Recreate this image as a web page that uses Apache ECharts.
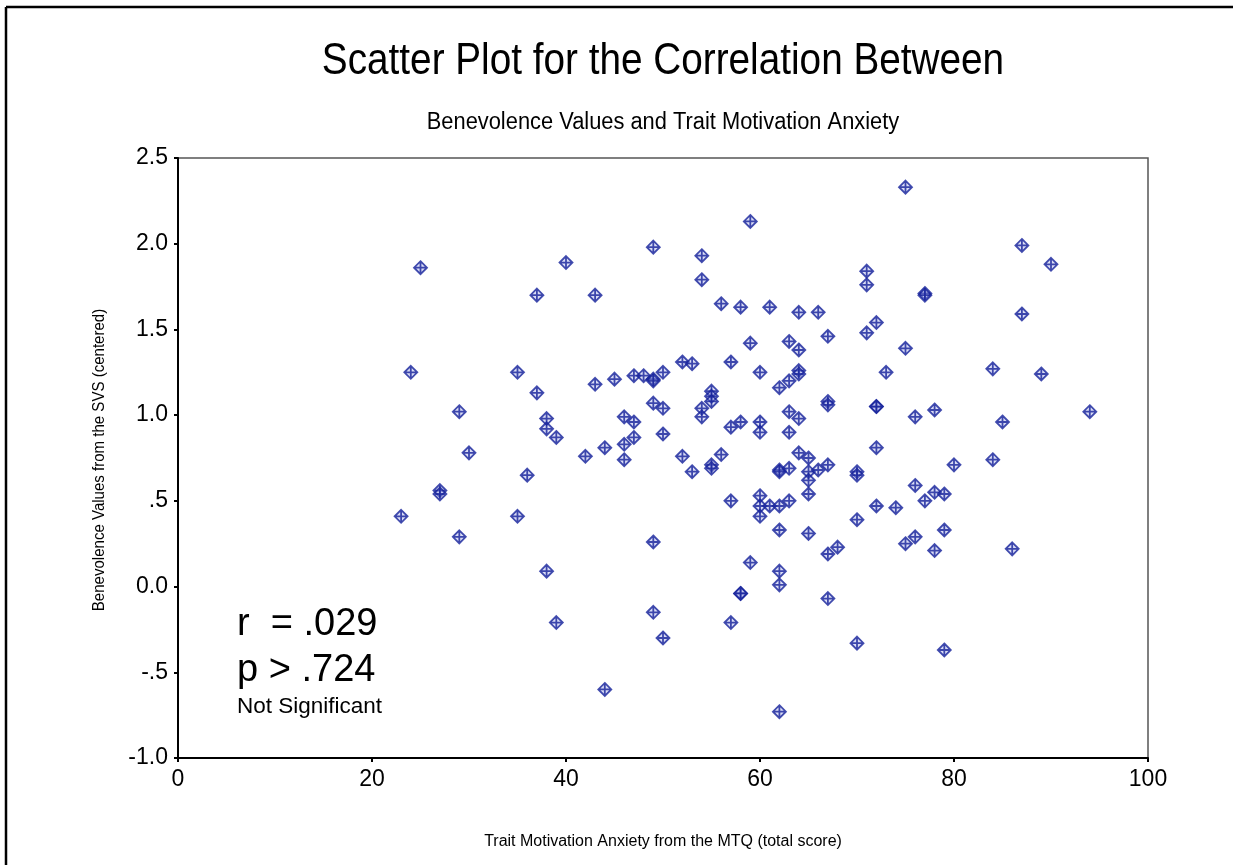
<!DOCTYPE html>
<html>
<head>
<meta charset="utf-8">
<title>Scatter Plot</title>
<script src="https://cdn.jsdelivr.net/npm/echarts@6/dist/echarts.min.js"></script>
<style>
  html, body { margin: 0; padding: 0; background: #fff; }
  #chart { width: 1233px; height: 865px; }
</style>
</head>
<body>
<div id="chart"></div>
<script>
// MTQ total score (x) and centered SVS benevolence (y)
const mtqScores = [
  23, 24, 25, 27, 27, 29, 29, 30, 35, 35, 36, 37, 37, 38, 38, 38, 39, 39, 40, 42,
  43, 43, 44, 44, 45, 46, 46, 46, 47, 47, 47, 48, 49, 49, 49, 49, 49, 49, 50, 50,
  50, 50, 52, 52, 53, 53, 54, 54, 54, 54, 55, 55, 55, 55, 55, 56, 56, 57, 57, 57,
  57, 58, 58, 58, 58, 59, 59, 59, 60, 60, 60, 60, 60, 60, 61, 61, 62, 62, 62, 62,
  62, 62, 62, 62, 63, 63, 63, 63, 63, 63, 64, 64, 64, 64, 64, 64, 65, 65, 65, 65,
  65, 66, 66, 67, 67, 67, 67, 67, 67, 68, 70, 70, 70, 70, 71, 71, 71, 72, 72, 72,
  72, 72, 73, 74, 75, 75, 75, 76, 76, 76, 77, 77, 77, 78, 78, 78, 79, 79, 79, 80,
  84, 84, 85, 86, 87, 87, 89, 90, 94
];
const benevolence = [
  0.41, 1.25, 1.86, 0.56, 0.54, 1.02, 0.29, 0.78, 1.25, 0.41, 0.65, 1.70, 1.13, 0.98, 0.92, 0.09, 0.87, -0.21, 1.89, 0.76,
  1.70, 1.18, 0.81, -0.60, 1.21, 0.99, 0.83, 0.74, 1.23, 0.96, 0.87, 1.23, 1.98, 1.21, 1.20, 1.07, 0.26, -0.15, 1.25, 1.04,
  0.89, -0.30, 1.31, 0.76, 1.30, 0.67, 1.93, 1.79, 1.04, 0.99, 1.14, 1.11, 1.08, 0.71, 0.69, 1.65, 0.77, 1.31, 0.93, 0.50,
  -0.21, 1.63, 0.96, -0.04, -0.04, 2.13, 1.42, 0.14, 1.25, 0.96, 0.90, 0.53, 0.47, 0.41, 1.63, 0.47, 1.16, 0.68, 0.67, 0.47,
  0.33, 0.09, 0.01, -0.73, 1.43, 1.20, 1.02, 0.90, 0.69, 0.50, 1.60, 1.38, 1.26, 1.24, 0.98, 0.78, 0.75, 0.67, 0.62, 0.54,
  0.31, 1.60, 0.68, 1.46, 1.08, 1.06, 0.71, 0.19, -0.07, 0.23, 0.67, 0.65, 0.39, -0.33, 1.84, 1.76, 1.48, 1.54, 1.05, 1.05,
  0.81, 0.47, 1.25, 0.46, 2.33, 1.39, 0.25, 0.99, 0.59, 0.29, 1.71, 1.70, 0.50, 1.03, 0.55, 0.21, 0.54, 0.33, -0.37, 0.71,
  1.27, 0.74, 0.96, 0.22, 1.99, 1.59, 1.24, 1.88, 1.02
];

const titleText = 'Scatter Plot for the Correlation Between';
const subtitleText = 'Benevolence Values and Trait Motivation Anxiety';
const xAxisName = 'Trait Motivation Anxiety from the MTQ (total score)';
const yAxisName = 'Benevolence Values from the SVS (centered)';
const statLines = ['r  = .029', 'p > .724', 'Not Significant'];

const FONT = '"Liberation Sans", Arial, sans-serif';

const chart = echarts.init(document.getElementById('chart'));

// diamond outline with a cross inside
const markerPath = 'path://M0,-10 L10,0 L0,10 L-10,0 Z M0,-10 L0,10 M-10,0 L10,0';

// free text; the original text is a bit condensed, so some are squeezed with scaleX
const label = (text, x, y, size, align, extra) => Object.assign({
  type: 'text',
  x: x,
  y: y,
  style: {
    text: text,
    fontFamily: FONT,
    fontSize: size,
    fill: '#000',
    align: align,
    verticalAlign: 'middle'
  }
}, extra || {});

const option = {
  backgroundColor: '#fff',
  animation: false,
  grid: {
    left: 178,
    top: 158,
    right: 85,
    bottom: 107,
    show: true,
    borderColor: '#555',
    borderWidth: 1.5
  },
  xAxis: {
    type: 'value',
    min: 0,
    max: 100,
    interval: 20,
    splitLine: { show: false },
    axisLine: { show: true, onZero: false, lineStyle: { color: '#000', width: 2 } },
    axisTick: { show: true, length: 4, lineStyle: { color: '#000', width: 2 } },
    axisLabel: { fontFamily: FONT, fontSize: 23, color: '#000', margin: 10 }
  },
  yAxis: {
    type: 'value',
    min: -1,
    max: 2.5,
    interval: 0.5,
    splitLine: { show: false },
    axisLine: { show: true, onZero: false, lineStyle: { color: '#000', width: 2 } },
    axisTick: { show: true, length: 4, lineStyle: { color: '#000', width: 2 } },
    axisLabel: {
      fontFamily: FONT,
      fontSize: 23,
      color: '#000',
      margin: 10,
      formatter: v => {
        const s = v.toFixed(1);
        if (v !== 0 && Math.abs(v) < 1) return s.replace('0.', '.');
        return s;
      }
    }
  },
  graphic: [
    // outer frame (top and left only)
    { type: 'line', shape: { x1: 6, y1: 7, x2: 1233, y2: 7 }, style: { stroke: '#000', lineWidth: 2.5 } },
    { type: 'line', shape: { x1: 6, y1: 7, x2: 6, y2: 865 }, style: { stroke: '#000', lineWidth: 2.5 } },
    label(titleText, 663, 62, 44, 'center', { scaleX: 0.88 }),
    label(subtitleText, 663, 123, 23, 'center', { scaleX: 0.95 }),
    label(xAxisName, 663, 842, 16, 'center'),
    label(yAxisName, 100, 460, 16, 'center', { rotation: Math.PI / 2, scaleX: 0.94 }),
    label(statLines[0], 237, 625, 38, 'left'),
    label(statLines[1], 237, 671, 38, 'left'),
    label(statLines[2], 237, 707, 22.5, 'left')
  ],
  series: [
    {
      type: 'scatter',
      data: mtqScores.map((x, i) => [x, benevolence[i]]),
      symbol: markerPath,
      symbolSize: 13,
      itemStyle: {
        color: 'rgba(140,150,225,0.4)',
        borderColor: '#14209a',
        borderWidth: 1.8
      }
    }
  ]
};

chart.setOption(option);
</script>
</body>
</html>
